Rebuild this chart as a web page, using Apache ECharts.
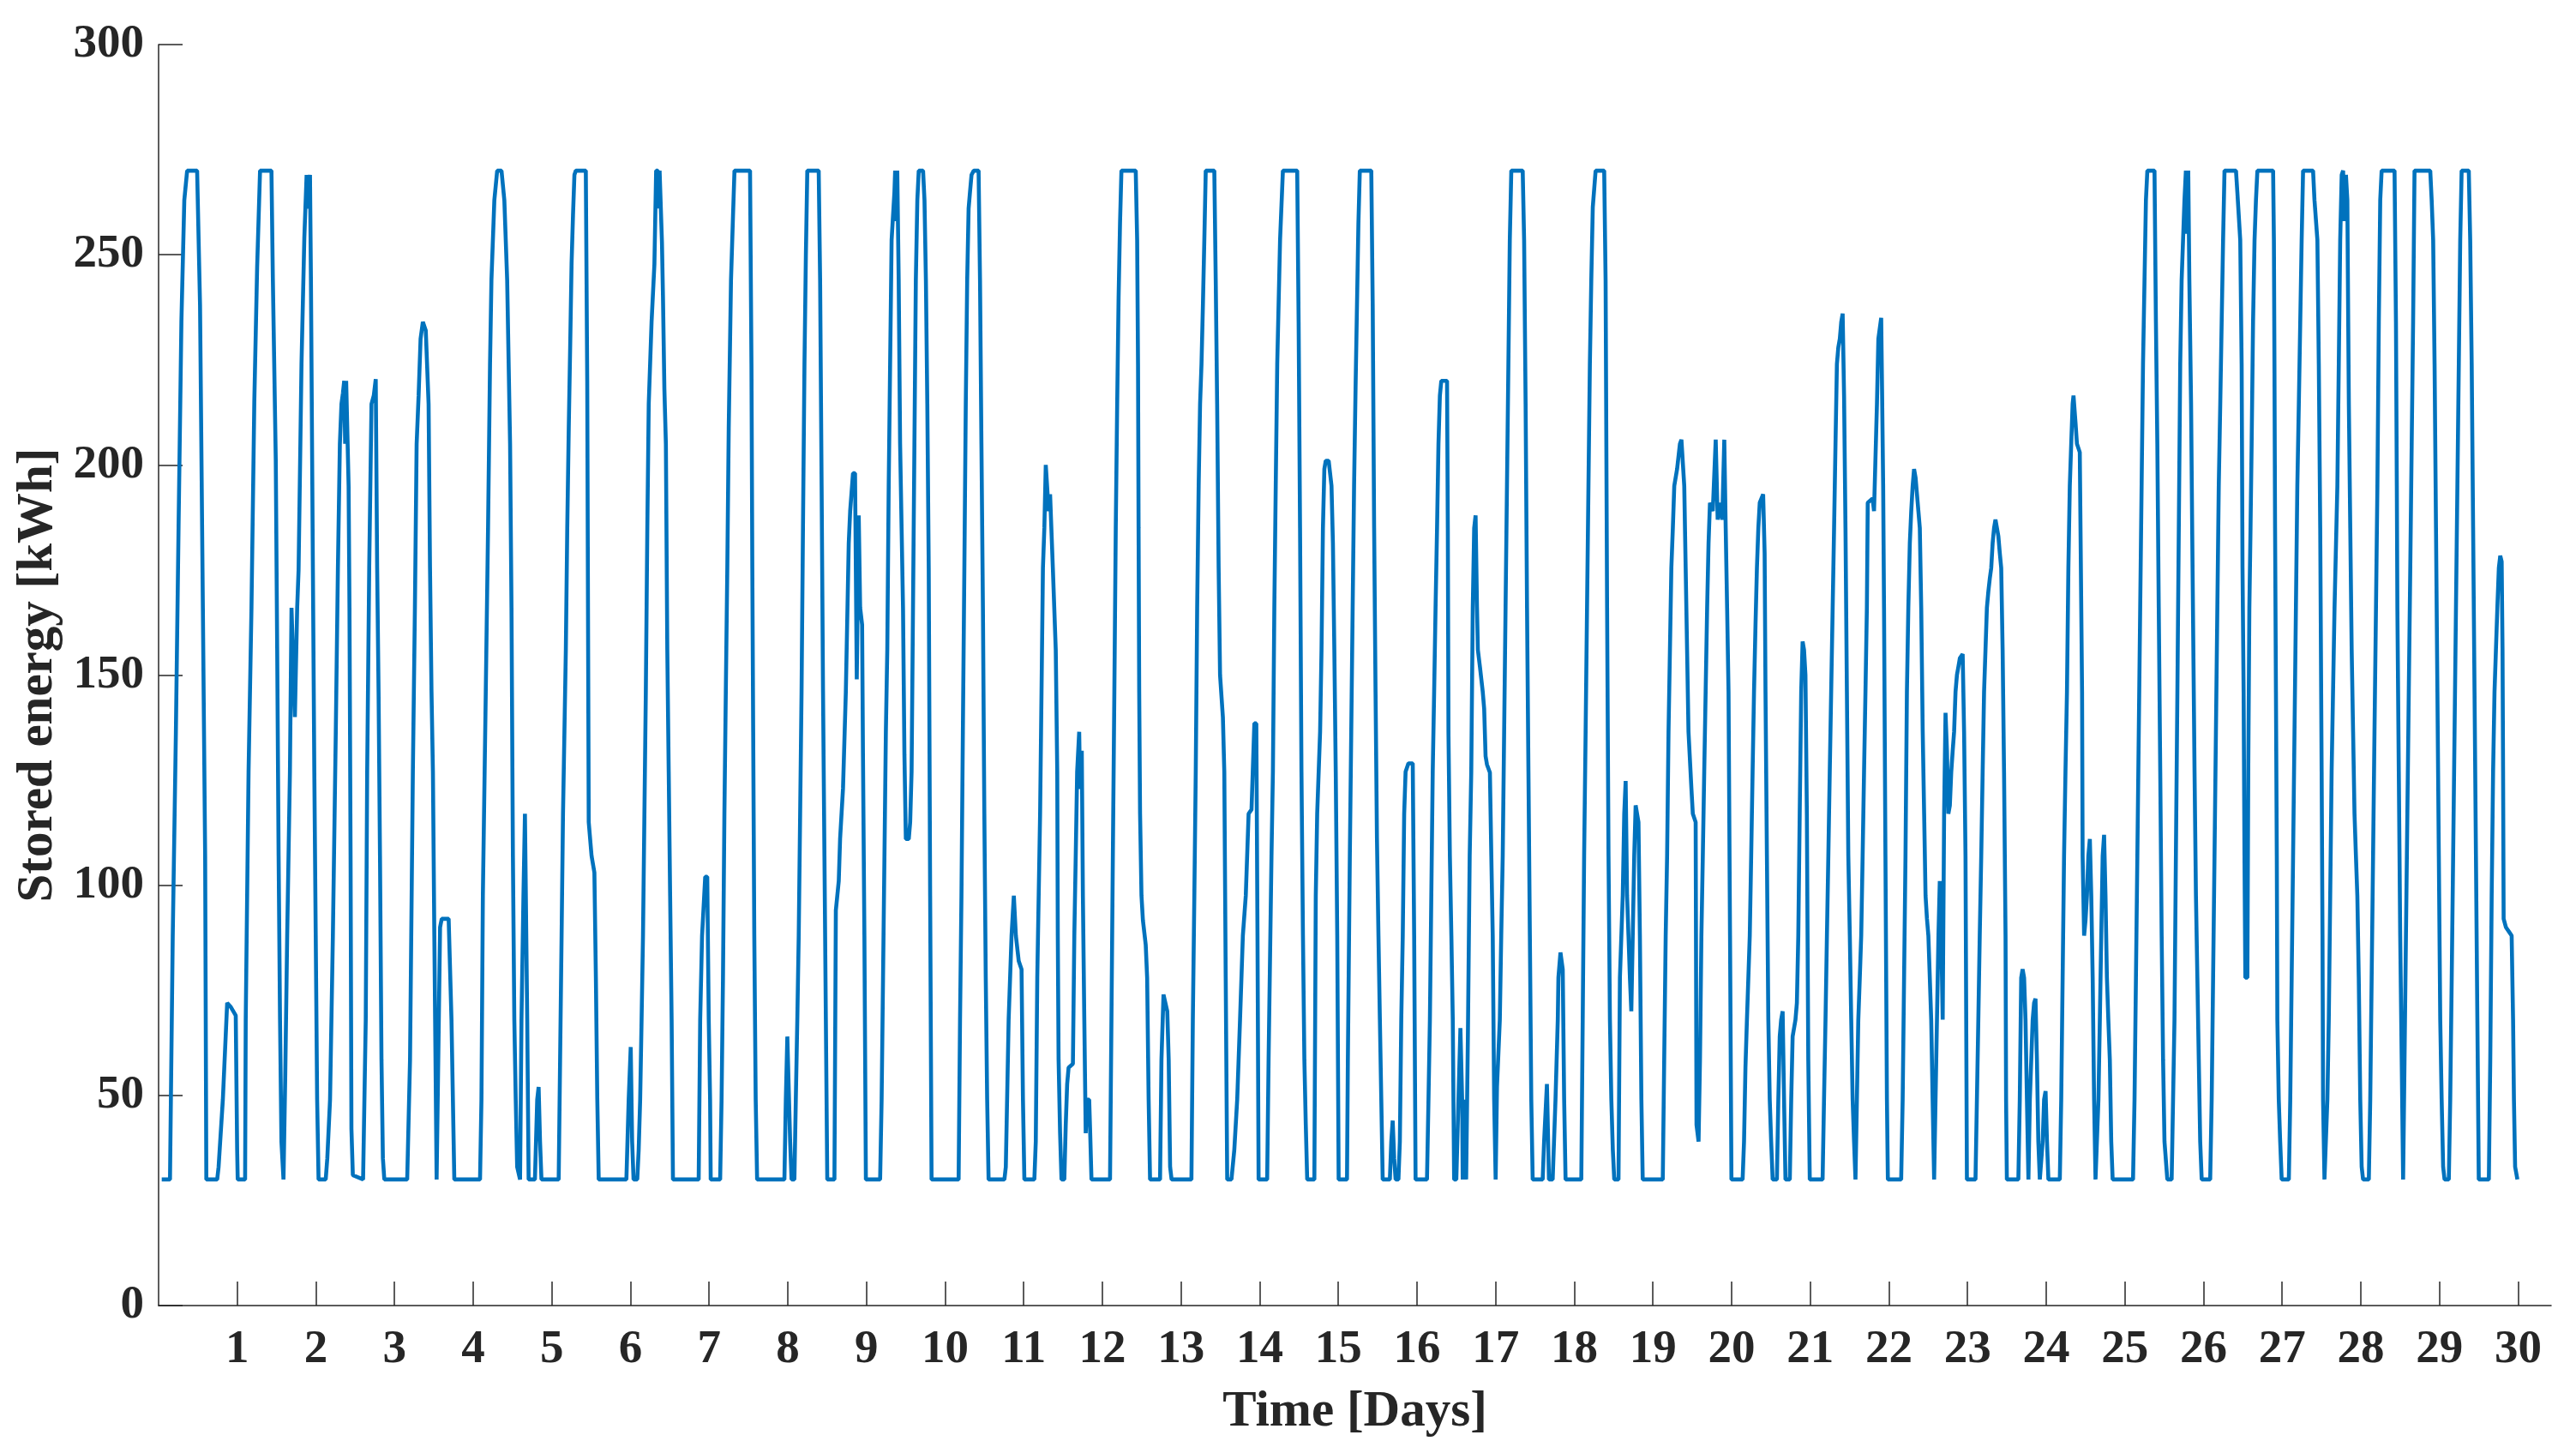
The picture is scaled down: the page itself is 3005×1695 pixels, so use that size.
<!DOCTYPE html>
<html>
<head>
<meta charset="utf-8">
<script src="https://cdn.jsdelivr.net/npm/echarts@6/dist/echarts.min.js"></script>
<style>
html,body{margin:0;padding:0;background:#fff;}
#chart{width:3005px;height:1695px;}
</style>
</head>
<body>
<div id="chart"></div>
<script>
// [day, kWh] vertices
const days0to5 = [
[0.04,30],[0.145,30],[0.18,88],[0.22,136.5],[0.254,185.3],[0.29,234],[0.327,263],[0.363,270],[0.49,270],[0.527,238],[0.563,166],[0.592,107],[0.607,30],
[0.745,30],[0.763,33],[0.817,49],[0.872,72],[0.919,71],[0.981,69],[0.999,37],[1.006,30],
[1.10,30],[1.108,68],[1.144,127],[1.181,166],[1.217,215],[1.253,247],[1.29,270],[1.435,270],[1.453,244],[1.49,201],[1.508,156],[1.526,107],[1.544,68],[1.562,39],[1.588,30],
[1.61,54],[1.635,88],[1.67,127],[1.69,166],[1.708,166],[1.733,140],[1.762,166],[1.78,175],[1.817,224],[1.853,254],[1.882,269],[1.896,261],[1.925,269],[1.937,244],[1.962,175],[1.98,127],[1.998,88],[2.016,49],[2.034,30],
[2.125,30],[2.145,35],[2.18,49],[2.216,88],[2.253,136.5],[2.28,175.5],[2.305,205],[2.325,214.5],[2.343,217],[2.36,220],[2.372,205],[2.385,220],[2.398,220],[2.416,195],[2.427,166],[2.441,107],[2.452,42],[2.47,31],[2.6,30],
[2.616,30],[2.634,68],[2.652,127],[2.678,175.5],[2.707,214.5],[2.736,216.5],[2.761,220.4],[2.779,175.5],[2.797,146],[2.815,107],[2.834,58.5],[2.852,35],[2.87,30],
[3.161,30],[3.197,58.5],[3.233,127],[3.259,166],[3.281,205],[3.306,216.5],[3.331,230],[3.36,234],[3.397,232],[3.433,214.5],[3.451,175.5],[3.47,146],[3.488,127],[3.506,88],[3.535,30],[3.579,90],[3.6,92],[3.688,92],[3.724,68],[3.76,30],
[4.087,30],[4.105,49],[4.123,97.5],[4.16,146],[4.189,185],[4.214,224],[4.232,244],[4.269,263],[4.305,270],[4.36,270],[4.396,263],[4.432,244],[4.469,205],[4.487,166],[4.505,107],[4.523,68],[4.541,49],[4.559,33],[4.596,30],
[4.614,68],[4.639,97.5],[4.658,117],[4.669,117],[4.687,68],[4.705,30],[4.785,30],[4.814,49],[4.832,52],[4.85,39],[4.868,30],[5.087,30]
];
const days5to10 = [
[5.105,58.5],[5.124,88],[5.142,117],[5.16,136.5],[5.178,156],[5.196,185],[5.215,208.7],[5.233,228],[5.251,248],[5.269,259.4],[5.287,269],[5.305,270],[5.432,270],[5.45,220],[5.458,175],[5.465,136.5],[5.469,115],[5.505,107],[5.541,103],[5.56,78],[5.578,49],[5.596,30],
[5.948,30],[5.977,49],[6.003,61.5],[6.021,39],[6.039,30],[6.086,30],[6.104,37],[6.123,49],[6.141,68],[6.159,88],[6.177,117],[6.195,146],[6.214,185],[6.232,214.5],[6.268,234],[6.304,247.7],[6.326,270],[6.348,270],[6.359,261],[6.37,270],[6.384,270],[6.4,253],[6.413,240],[6.431,218],[6.45,205],[6.468,156],[6.486,127],[6.504,97.5],[6.523,68],[6.54,30],
[6.867,30],[6.886,68],[6.91,88],[6.95,102],[6.976,102],[6.995,68],[7.012,49],[7.02,30],
[7.14,30],[7.158,49],[7.176,78],[7.194,117],[7.212,146],[7.231,175.5],[7.249,208.7],[7.278,244],[7.303,259],[7.322,270],[7.52,270],[7.538,224],[7.549,175.5],[7.56,136.5],[7.574,88],[7.592,49],[7.61,30],
[7.957,30],[7.975,49],[7.994,64],[8.03,39],[8.048,30],[8.084,30],[8.102,49],[8.121,68],[8.139,88],[8.157,117],[8.175,146],[8.193,185],[8.212,224],[8.23,250],[8.248,270],[8.393,270],[8.411,244],[8.43,195],[8.448,146],[8.466,107],[8.484,68],[8.502,30],
[8.593,30],[8.611,94],[8.648,101],[8.665,111],[8.702,123],[8.738,146],[8.775,181.4],[8.793,189],[8.829,198],[8.855,198],[8.877,149],[8.902,188],[8.92,166],[8.945,162],[8.956,130.7],[8.974,88],[8.993,30],
[9.174,30],[9.193,49],[9.211,78],[9.229,107],[9.247,136.5],[9.265,156],[9.283,195],[9.301,224],[9.32,253.5],[9.356,265],[9.365,270],[9.38,258],[9.392,270],[9.41,244],[9.428,205],[9.447,185],[9.465,166],[9.483,131],[9.501,111],[9.538,111],[9.556,115],[9.574,127],[9.592,166],[9.61,205],[9.628,244],[9.647,263],[9.665,270],[9.72,270],[9.738,263],[9.756,244],[9.774,214.5],[9.792,175.5],[9.81,97.5],[9.828,30],
[10.172,30]
];
const days10to15 = [
[10.19,68],[10.208,97.5],[10.226,136.5],[10.245,175.5],[10.263,214.5],[10.281,244],[10.299,261],[10.317,265],[10.336,269],[10.364,270],[10.426,270],[10.444,244],[10.462,205],[10.481,166],[10.499,117],[10.517,78],[10.535,49],[10.553,30],
[10.754,30],[10.772,33],[10.808,68],[10.845,88],[10.874,97.5],[10.9,88],[10.936,82],[10.972,80],[10.99,49],[11.008,30],
[11.135,30],[11.153,39],[11.172,78],[11.208,117],[11.226,146],[11.244,175.5],[11.262,185],[11.28,200],[11.298,200],[11.317,189],[11.335,193],[11.37,175.5],[11.407,156],[11.426,127],[11.433,88],[11.443,58.5],[11.462,41],[11.48,30],
[11.516,30],[11.534,43],[11.552,52.7],[11.57,56.6],[11.625,57.5],[11.643,88],[11.661,107],[11.679,127],[11.705,136.5],[11.716,122.9],[11.738,132],[11.752,97.5],[11.77,68],[11.788,41],[11.807,49],[11.832,49],[11.845,41],[11.861,30],
[12.097,30],[12.115,68],[12.133,107],[12.152,146],[12.17,185],[12.188,214.5],[12.206,239.9],[12.224,257.4],[12.242,270],[12.424,270],[12.442,253.5],[12.453,224],[12.46,185],[12.468,146],[12.479,117],[12.497,97.5],[12.515,91.7],[12.551,85.8],[12.569,78],[12.588,49],[12.606,30],
[12.733,30],[12.751,58.5],[12.777,74],[12.825,70],[12.843,58.5],[12.861,33],[12.88,30],
[13.132,30],[13.15,68],[13.169,97.5],[13.187,127],[13.205,166],[13.224,195],[13.242,214.5],[13.26,224],[13.278,238],[13.296,253.5],[13.314,270],[13.423,270],[13.441,244],[13.459,214.5],[13.478,175.5],[13.496,150],[13.532,140],[13.55,127],[13.568,78],[13.587,30],
[13.641,30],[13.677,37],[13.714,49],[13.75,68],[13.786,88],[13.823,97.5],[13.859,117],[13.896,118],[13.932,138.5],[13.957,138.5],[13.972,88],[13.986,30],
[14.095,30],[14.113,58.5],[14.15,107],[14.168,127],[14.186,166],[14.204,195],[14.223,224],[14.259,253.5],[14.295,270],[14.477,270],[14.495,234],[14.513,185],[14.531,127],[14.55,88],[14.568,58.5],[14.586,43],[14.604,30],
[14.695,30],[14.713,97.5],[14.731,117],[14.768,136.5],[14.786,156],[14.804,185],[14.822,199],[14.84,201],[14.877,201],[14.913,195],[14.931,181.4],[14.949,156],[14.967,127],[14.986,88],[15.004,30],
[15.11,30]
];
const days15to20 = [
[15.121,58.5],[15.146,107],[15.164,136.5],[15.182,166],[15.2,195],[15.219,218.4],[15.237,238],[15.255,257.4],[15.273,270],[15.419,270],[15.437,238],[15.455,185],[15.473,146],[15.491,111],[15.51,88],[15.528,68],[15.546,49],[15.564,30],
[15.655,30],[15.673,39],[15.691,44],[15.71,35],[15.728,30],[15.764,30],[15.782,39],[15.8,68],[15.819,88],[15.837,117],[15.855,127],[15.891,129],[15.946,129],[15.964,88],[15.982,30],
[16.127,30],[16.146,49],[16.164,68],[16.182,97.5],[16.2,127],[16.218,146],[16.236,166],[16.255,185],[16.273,205],[16.291,216.5],[16.309,220],[16.382,220],[16.392,185],[16.4,136.5],[16.418,107],[16.437,88],[16.455,68],[16.472,30],
[16.5,30],[16.527,49],[16.552,66],[16.574,49],[16.581,30],[16.59,30],[16.607,49],[16.625,30],[16.647,64],[16.67,107],[16.69,127],[16.709,166],[16.727,185],[16.745,188],[16.763,166],[16.774,156],[16.8,152],[16.836,146],[16.854,142],[16.872,130.7],[16.89,128.7],[16.927,126.8],[16.945,107],[16.963,88],[16.981,49],[17.0,30],
[17.017,52],[17.053,68],[17.071,88],[17.09,107],[17.108,136.5],[17.126,166],[17.144,195],[17.162,224],[17.18,253.5],[17.199,270],[17.344,270],[17.362,253.5],[17.381,214.5],[17.399,166],[17.417,127],[17.435,88],[17.453,49],[17.471,30],
[17.598,30],[17.616,39],[17.652,52.7],[17.678,30],[17.725,30],[17.761,49],[17.79,68],[17.798,78],[17.824,84],[17.853,80],[17.871,49],[17.889,30],
[18.089,30],[18.107,68],[18.125,107],[18.144,136.5],[18.162,166],[18.18,195],[18.198,224],[18.216,244],[18.235,261.3],[18.271,270],[18.38,270],[18.398,244],[18.417,166],[18.435,107],[18.453,68],[18.471,49],[18.49,37],[18.508,30],
[18.562,30],[18.58,78],[18.616,97.5],[18.635,117],[18.653,124.8],[18.671,97.5],[18.689,88],[18.707,78],[18.725,70],[18.762,107],[18.78,119],[18.816,115],[18.834,88],[18.853,49],[18.87,30],
[19.125,30],[19.143,58.5],[19.162,88],[19.18,107],[19.198,136.5],[19.216,156],[19.234,175.5],[19.253,185],[19.271,195],[19.307,199],[19.343,205],[19.362,206],[19.398,195],[19.416,175.5],[19.434,156],[19.452,136.5],[19.489,123],[19.507,117],[19.543,115],[19.554,43],[19.58,39],
[19.598,58.5],[19.616,88],[19.634,107],[19.652,127],[19.67,146],[19.689,166],[19.707,181.4],[19.725,191],[19.761,189],[19.798,206],[19.823,187],[19.852,191],[19.881,187],[19.907,206],[19.925,185],[19.943,166],[19.961,146],[19.98,88],[19.998,30],
[20.14,30]
];
const days20to25 = [
[20.158,39],[20.176,56.6],[20.195,68],[20.213,78],[20.231,88],[20.249,107],[20.267,127],[20.285,146],[20.304,162],[20.322,175.5],[20.34,185],[20.358,191],[20.401,193],[20.416,193],[20.42,179],[20.431,146],[20.449,107],[20.467,68],[20.485,49],[20.503,39],[20.522,30],
[20.576,30],[20.594,49],[20.612,64],[20.63,68],[20.649,70],[20.667,49],[20.685,30],
[20.74,30],[20.758,49],[20.776,64],[20.812,68],[20.83,72],[20.848,88],[20.866,117],[20.885,146],[20.903,158],[20.921,156],[20.939,150],[20.957,117],[20.975,58.5],[20.994,30],
[21.157,30],[21.175,49],[21.194,68],[21.212,88],[21.23,107],[21.248,127],[21.266,146],[21.285,166],[21.303,185],[21.321,205],[21.339,224],[21.357,228],[21.376,230],[21.394,234],[21.412,236],[21.43,216.5],[21.448,185],[21.466,146],[21.484,107],[21.503,88],[21.521,68],[21.539,49],[21.557,39],[21.575,30],
[21.593,49],[21.611,68],[21.63,78],[21.648,88],[21.666,107],[21.684,127],[21.702,146],[21.72,166],[21.731,191],[21.793,192],[21.811,189],[21.829,189],[21.848,214.5],[21.866,230],[21.902,235],[21.913,218],[21.927,195],[21.938,166],[21.956,107],[21.975,49],[21.987,30],
[22.156,30],[22.175,49],[22.193,78],[22.211,107],[22.229,146],[22.247,166],[22.266,181.4],[22.284,189],[22.302,195],[22.32,199],[22.339,197],[22.357,193],[22.375,189],[22.393,185],[22.411,166],[22.43,136.5],[22.448,117],[22.466,97.5],[22.484,92],[22.502,88],[22.538,68],[22.556,49],[22.575,30],
[22.593,49],[22.611,68],[22.63,88],[22.647,101],[22.666,88],[22.684,68],[22.702,117],[22.72,141],[22.738,132],[22.756,117],[22.775,119],[22.793,127],[22.811,132],[22.829,136.5],[22.847,146],[22.865,150],[22.884,152],[22.902,154],[22.938,155],[22.956,136.5],[22.974,107],[22.992,30],
[23.101,30],[23.119,49],[23.137,68],[23.155,88],[23.174,107],[23.192,127],[23.21,146],[23.228,156],[23.246,166],[23.265,170],[23.283,173],[23.301,175.5],[23.319,181.4],[23.337,185],[23.355,187],[23.374,187],[23.392,183],[23.41,179],[23.428,175.5],[23.446,156],[23.464,127],[23.483,88],[23.49,49],[23.5,30],
[23.646,30],[23.664,49],[23.682,78],[23.7,80],[23.719,78],[23.737,68],[23.755,49],[23.774,30],[23.792,49],[23.81,58.5],[23.828,68],[23.846,72],[23.864,73],[23.882,58.5],[23.9,39],[23.919,30],[23.955,39],[23.973,49],[23.992,51],[24.01,39],[24.028,30],
[24.173,30],[24.191,49],[24.209,78],[24.227,107],[24.245,127],[24.264,146],[24.282,175.5],[24.3,195],[24.318,205],[24.336,214.5],[24.347,216.5],[24.373,210],[24.391,205],[24.427,203],[24.445,203],[24.456,146],[24.463,107],[24.482,88],[24.5,91.7],[24.518,97.5],[24.536,107],[24.555,111],[24.573,97.5],[24.591,78],[24.609,49],[24.627,30],
[24.645,30],[24.664,49],[24.682,68],[24.7,88],[24.718,107],[24.736,112],[24.754,97.5],[24.772,78],[24.79,68],[24.809,58.5],[24.827,39],[24.845,30],
[25.104,30]
];
const days25to30 = [
[25.123,49],[25.141,78],[25.159,107],[25.177,136.5],[25.195,166],[25.213,195],[25.231,224],[25.25,244],[25.268,263],[25.286,270],[25.377,270],[25.395,234],[25.413,205],[25.431,166],[25.45,127],[25.468,88],[25.486,58.5],[25.504,39],[25.54,30],
[25.595,30],[25.613,49],[25.631,68],[25.649,107],[25.668,146],[25.686,185],[25.704,224],[25.722,244],[25.74,253.5],[25.758,263],[25.776,270],[25.787,255],[25.806,270],[25.82,244],[25.842,214.5],[25.856,185],[25.871,156],[25.886,127],[25.904,97.5],[25.922,78],[25.94,58.5],[25.958,39],[25.977,30],
[26.085,30],[26.104,49],[26.122,78],[26.14,107],[26.158,136.5],[26.176,166],[26.194,195],[26.213,214.5],[26.231,234],[26.249,253.5],[26.267,270],[26.413,270],[26.43,265],[26.467,253.5],[26.485,224],[26.496,175.5],[26.51,146],[26.521,107],[26.532,78],[26.558,78],[26.569,127],[26.583,166],[26.598,185],[26.612,205],[26.63,234],[26.649,253.5],[26.667,263],[26.685,270],
[26.885,270],[26.895,253.5],[26.902,224],[26.91,185],[26.921,146],[26.932,107],[26.939,68],[26.957,49],[26.975,39],[26.994,30],
[27.085,30],[27.103,49],[27.121,78],[27.139,107],[27.157,136.5],[27.175,166],[27.193,195],[27.212,214.5],[27.23,234],[27.248,253.5],[27.266,270],[27.393,270],[27.411,263],[27.448,253.5],[27.466,224],[27.484,185],[27.502,127],[27.513,88],[27.52,49],[27.538,30],
[27.557,30],[27.575,49],[27.593,68],[27.611,97.5],[27.629,127],[27.666,166],[27.702,195],[27.72,224],[27.738,253.5],[27.757,269],[27.775,270],[27.793,258],[27.811,269],[27.829,263],[27.84,234],[27.848,214.5],[27.866,185],[27.884,156],[27.902,136.5],[27.92,117],[27.938,107],[27.956,97.5],[27.974,78],[27.993,49],[28.011,33],[28.029,30],
[28.102,30],[28.12,49],[28.138,78],[28.156,107],[28.174,136.5],[28.193,166],[28.211,195],[28.229,234],[28.247,263],[28.265,270],[28.429,270],[28.447,234],[28.458,195],[28.465,166],[28.483,127],[28.501,88],[28.52,58.5],[28.538,30],
[28.556,58.5],[28.574,88],[28.592,117],[28.61,146],[28.629,175.5],[28.647,205],[28.665,234],[28.683,270],[28.883,270],[28.901,263],[28.92,253.5],[28.938,224],[28.956,185],[28.974,146],[28.992,107],[29.01,68],[29.028,49],[29.047,33],[29.065,30],
[29.119,30],[29.137,49],[29.156,78],[29.174,107],[29.192,136.5],[29.21,166],[29.228,195],[29.246,224],[29.264,253.5],[29.282,270],[29.373,270],[29.391,253.5],[29.41,224],[29.428,185],[29.446,146],[29.464,107],[29.482,68],[29.5,30],
[29.628,30],[29.646,58.5],[29.664,97.5],[29.682,127],[29.7,146],[29.718,156],[29.736,166],[29.755,175.5],[29.773,178.4],[29.791,177],[29.802,156],[29.809,127],[29.816,92],[29.845,90],[29.882,89],[29.918,88],[29.936,68],[29.947,49],[29.962,33],[29.991,30]
];
const xTickDays = [1,2,3,4,5,6,7,8,9,10,11,12,13,14,15,16,17,18,19,20,21,22,23,24,25,26,27,28,29,30];
const yTicks = [0,50,100,150,200,250,300];
const xAxisTitle = 'Time [Days]';
const yAxisTitle = 'Stored energy [kWh]';

const seriesData = [].concat(days0to5, days5to10, days10to15, days15to20, days20to25, days25to30);

const chart = echarts.init(document.getElementById('chart'), null, {renderer: 'canvas'});
const axisColor = '#262626';
const fontFam = '"Liberation Serif", "Times New Roman", serif';
chart.setOption({
  animation: false,
  backgroundColor: '#ffffff',
  grid: {left: 185, right: 29, top: 52, bottom: 172, containLabel: false},
  xAxis: {
    type: 'value', min: 0, max: 30.42, interval: 1,
    name: xAxisTitle, nameLocation: 'middle', nameGap: 95,
    nameTextStyle: {fontFamily: fontFam, fontWeight: 'bold', fontSize: 59, color: axisColor},
    axisLine: {show: true, lineStyle: {color: axisColor, width: 1.5}},
    axisTick: {show: true, inside: true, length: 28, customValues: xTickDays, lineStyle: {color: axisColor, width: 1.5}},
    axisLabel: {show: true, customValues: xTickDays, margin: 24, fontFamily: fontFam, fontWeight: 'bold', fontSize: 55, color: axisColor},
    splitLine: {show: false}
  },
  yAxis: {
    type: 'value', min: 0, max: 300, interval: 50,
    name: yAxisTitle, nameLocation: 'middle', nameGap: 104, nameRotate: 90,
    nameTextStyle: {fontFamily: fontFam, fontWeight: 'bold', fontSize: 59, color: axisColor},
    axisLine: {show: true, lineStyle: {color: axisColor, width: 1.5}},
    axisTick: {show: true, inside: true, length: 28, customValues: yTicks, lineStyle: {color: axisColor, width: 1.5}},
    axisLabel: {show: true, customValues: yTicks, margin: 17, fontFamily: fontFam, fontWeight: 'bold', fontSize: 55, color: axisColor},
    splitLine: {show: false}
  },
  series: [{
    type: 'line', data: seriesData, showSymbol: false, symbol: 'none',
    lineStyle: {color: '#0072BD', width: 4.6}, itemStyle: {color: '#0072BD'},
    clip: true
  }]
});
</script>
</body>
</html>
